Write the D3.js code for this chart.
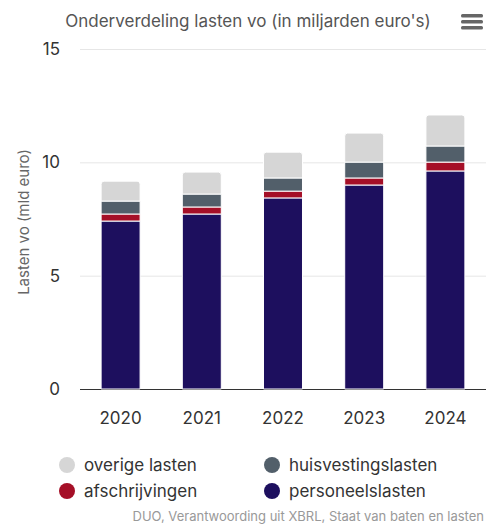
<!DOCTYPE html>
<html>
<head>
<meta charset="utf-8">
<script src="https://cdn.jsdelivr.net/npm/d3@7"></script>
<style>
  body { margin: 0; background: #fff; }
  svg { font-family: Inter, "Liberation Sans", sans-serif; display: block; }
</style>
</head>
<body>
<svg id="chart" width="486" height="524"></svg>
<script>
const years = ['2020', '2021', '2022', '2023', '2024']
const personeelslasten = [7.41, 7.72, 8.43, 9.0, 9.62]
const afschrijvingen = [0.31, 0.31, 0.30, 0.31, 0.39]
const huisvestingslasten = [0.57, 0.57, 0.58, 0.70, 0.71]
const overigeLasten = [0.88, 0.97, 1.14, 1.28, 1.37]
const yTicks = [0, 5, 10, 15]

const series = [
  { key: 'personeelslasten', values: personeelslasten, color: '#1d0f5e' },
  { key: 'afschrijvingen', values: afschrijvingen, color: '#a50f27' },
  { key: 'huisvestingslasten', values: huisvestingslasten, color: '#525f6a' },
  { key: 'overige lasten', values: overigeLasten, color: '#d6d6d6' }
]

let rows = years.map((yr, i) => {
  let row = { year: yr }
  series.forEach(s => { row[s.key] = s.values[i] })
  return row
})

let stacked = d3.stack().keys(series.map(s => s.key))(rows)

let svg = d3.select('#chart')
let plotLeft = 80
let plotRight = 486
let plotTop = 49
let plotBottom = 389

let x = d3.scaleBand().domain(years).range([plotLeft, plotRight]).paddingInner(0.52).paddingOuter(0.26)
let y = d3.scaleLinear().domain([0, 15]).range([plotBottom, plotTop])

// title
svg.append('text')
  .attr('x', 248).attr('y', 27)
  .attr('text-anchor', 'middle')
  .attr('fill', '#555')
  .style('font-size', '17px')
  .text("Onderverdeling lasten vo (in miljarden euro's)")

// hamburger
svg.append('g')
  .selectAll('rect')
  .data([0, 1, 2])
  .enter()
  .append('rect')
  .attr('x', 461).attr('y', d => 14 + d * 6)
  .attr('width', 22).attr('height', 3.5).attr('rx', 1.5)
  .attr('fill', '#666')

// grid
svg.append('g')
  .selectAll('line')
  .data(yTicks)
  .enter()
  .append('line')
  .attr('x1', plotLeft).attr('x2', plotRight)
  .attr('y1', d => y(d) + 0.5).attr('y2', d => y(d) + 0.5)
  .attr('stroke', d => d === 0 ? '#333' : '#e6e6e6')

svg.append('g')
  .selectAll('text')
  .data(yTicks)
  .enter()
  .append('text')
  .attr('x', 60).attr('y', d => y(d) + 6)
  .attr('text-anchor', 'end')
  .attr('fill', '#333')
  .style('font-size', '17px')
  .text(d => d)

svg.append('text')
  .attr('transform', `translate(29,${(plotTop + plotBottom) / 2 + 3}) rotate(-90)`)
  .attr('text-anchor', 'middle')
  .attr('fill', '#666')
  .style('font-size', '15px')
  .text('Lasten vo (mld euro)')

// bars
let rad = 3
function barPath(d, isTop) {
  let x0 = x(d.data.year), w = x.bandwidth()
  let y0 = y(d[0]), y1 = y(d[1])
  if (!isTop) return `M${x0},${y1}H${x0 + w}V${y0}H${x0}Z`
  return `M${x0},${y0}V${y1 + rad}Q${x0},${y1} ${x0 + rad},${y1}H${x0 + w - rad}Q${x0 + w},${y1} ${x0 + w},${y1 + rad}V${y0}Z`
}

svg.append('g')
  .selectAll('g')
  .data(stacked)
  .enter()
  .append('g')
  .attr('fill', (d, i) => series[i].color)
  .each(function (layer, li) {
    d3.select(this).selectAll('path')
      .data(layer)
      .enter()
      .append('path')
      .attr('d', d => barPath(d, li === stacked.length - 1))
      .attr('stroke', '#fff')
      .attr('stroke-width', 1)
  })

svg.append('g')
  .selectAll('text')
  .data(years)
  .enter()
  .append('text')
  .attr('x', d => x(d) + x.bandwidth() / 2)
  .attr('y', 424)
  .attr('text-anchor', 'middle')
  .attr('fill', '#333')
  .style('font-size', '17px')
  .text(d => d)

// legend
let legendItems = [
  { name: 'overige lasten', color: '#d6d6d6', cx: 67, cy: 465 },
  { name: 'huisvestingslasten', color: '#525f6a', cx: 272, cy: 465 },
  { name: 'afschrijvingen', color: '#a50f27', cx: 67, cy: 491 },
  { name: 'personeelslasten', color: '#1d0f5e', cx: 272, cy: 491 }
]
let legend = svg.append('g')
legend.selectAll('circle')
  .data(legendItems)
  .enter()
  .append('circle')
  .attr('cx', d => d.cx).attr('cy', d => d.cy).attr('r', 8)
  .attr('fill', d => d.color)
legend.selectAll('text')
  .data(legendItems)
  .enter()
  .append('text')
  .attr('x', d => d.cx + 17).attr('y', d => d.cy + 6)
  .attr('fill', '#333')
  .style('font-size', '17px')
  .text(d => d.name)

svg.append('text')
  .attr('x', 484).attr('y', 521)
  .attr('text-anchor', 'end')
  .attr('fill', '#999')
  .style('font-size', '13px')
  .text('DUO, Verantwoording uit XBRL, Staat van baten en lasten')
</script>
</body>
</html>
